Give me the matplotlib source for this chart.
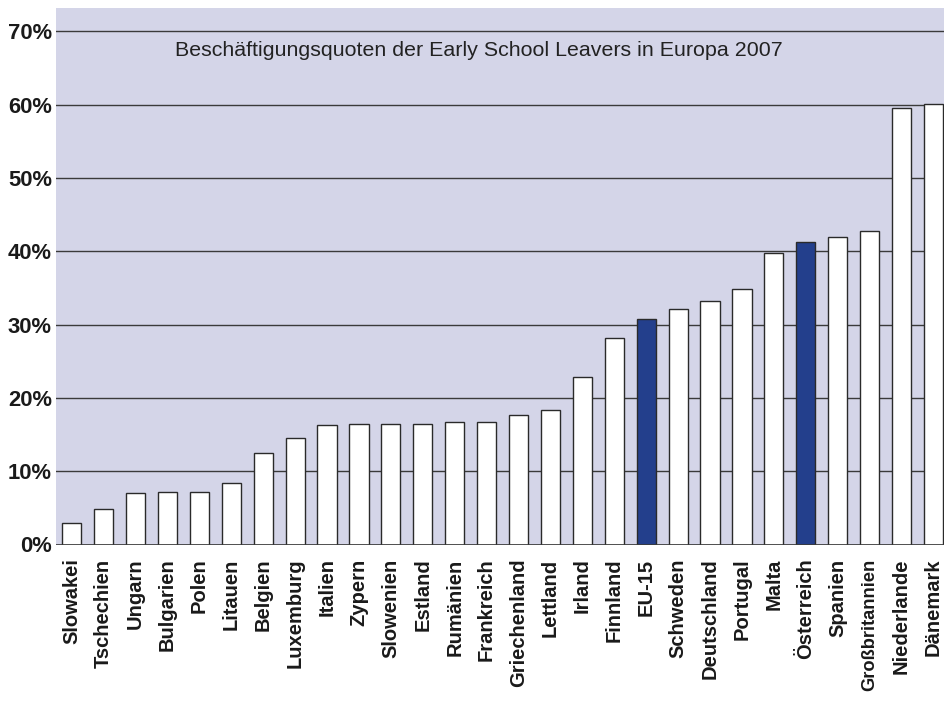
import matplotlib
matplotlib.use("Agg")
import matplotlib.pyplot as plt
from matplotlib.ticker import FuncFormatter

countries = ["Slowakei", "Tschechien", "Ungarn", "Bulgarien", "Polen", "Litauen",
             "Belgien", "Luxemburg", "Italien", "Zypern", "Slowenien", "Estland",
             "Rumänien", "Frankreich", "Griechenland", "Lettland", "Irland",
             "Finnland", "EU-15", "Schweden", "Deutschland", "Portugal", "Malta",
             "Österreich", "Spanien", "Großbritannien", "Niederlande", "Dänemark"]
values = [2.9, 4.8, 7.0, 7.1, 7.2, 8.4, 12.5, 14.5, 16.3, 16.4, 16.5, 16.5,
          16.7, 16.7, 17.7, 18.3, 22.9, 28.2, 30.8, 32.1, 33.2, 34.8, 39.8,
          41.3, 42.0, 42.8, 59.5, 60.1]
highlight = ["EU-15", "Österreich"]
title = "Beschäftigungsquoten der Early School Leavers in Europa 2007"
yticks = [0, 10, 20, 30, 40, 50, 60, 70]

plt.rcParams['font.family'] = ['Liberation Sans', 'DejaVu Sans']

fig = plt.figure(figsize=(9.45, 7.01), dpi=100)
ax = fig.add_axes([56/945, (701-544.5)/701, 1 - 56/945, (544.5-8)/701])
ax.set_facecolor("#d4d5e8")

colors = ["#233f8c" if c in highlight else "white" for c in countries]
x = list(range(len(countries)))
ax.bar(x, values, width=0.6, color=colors, edgecolor="#2a2a2a", linewidth=1.0, zorder=3)

ax.set_xlim(-0.49, len(countries) - 1 + 0.36)
ax.set_ylim(0, 73.2)
ax.set_yticks(yticks)
ax.yaxis.set_major_formatter(FuncFormatter(lambda v, p: f"{int(v)}%"))
ax.grid(axis="y", color="#3a3a3a", linewidth=1.0, zorder=1)
ax.set_axisbelow(True)

ax.set_xticks(x)
ax.set_xticklabels(countries, rotation=90, fontsize=14.5, fontweight="bold", color="#1a1a1a")
for lab in ax.get_xticklabels():
    if len(lab.get_text()) > 13:
        lab.set_fontsize(13.2)
for lab in ax.get_yticklabels():
    lab.set_fontsize(15.8)
    lab.set_fontweight("bold")
    lab.set_color("#1a1a1a")
ax.tick_params(axis="both", length=0)
ax.tick_params(axis="x", pad=10)
ax.tick_params(axis="y", pad=3)
for s in ax.spines.values():
    s.set_visible(False)
ax.axhline(0, color="#3a3a3a", linewidth=1.2, zorder=4)

ax.text(0.476, 0.9217, title, transform=ax.transAxes, ha="center", va="center",
        fontsize=15.4, color="#222222")

fig.savefig("out.png", dpi=100)
